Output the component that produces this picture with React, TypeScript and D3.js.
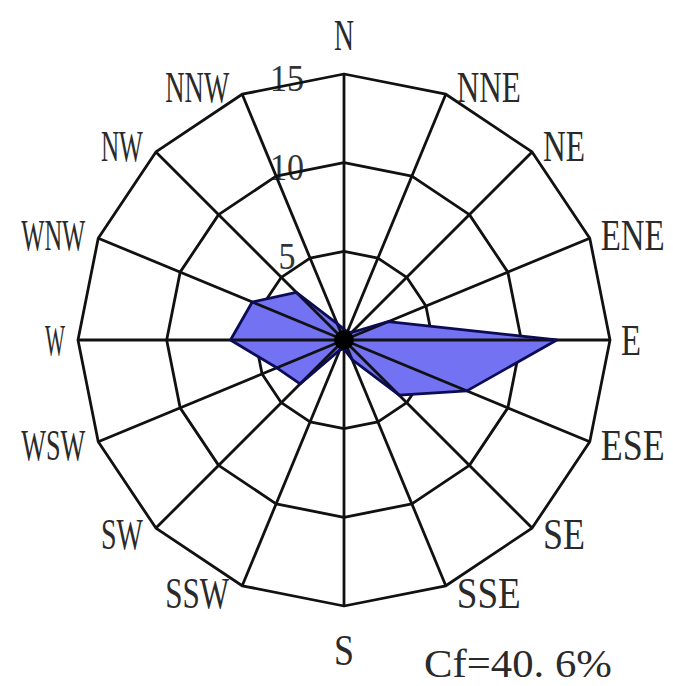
import React, { useRef, useEffect } from 'react';
import * as d3 from 'd3';

// 16 compass directions, clockwise from north
const directions = ['N', 'NNE', 'NE', 'ENE', 'E', 'ESE', 'SE', 'SSE', 'S', 'SSW', 'SW', 'WSW', 'W', 'WNW', 'NW', 'NNW'];
// wind frequency (%) per direction
const frequency = [0.6, 0.5, 0.6, 2.7, 12.0, 7.5, 4.4, 1.2, 0.5, 0.6, 3.5, 4.1, 6.4, 5.6, 3.8, 1.0];
const ringValues = [5, 10, 15];
const tickLabels = ['0', '5', '10', '15'];
const calmText = 'Cf=40. 6%';

const WindRose: React.FC = () => {
  const width = 673;
  const height = 686;
  const cx = 344;
  const cy = 340;
  const svgRef = useRef<SVGSVGElement | null>(null);

  useEffect(() => {
    const svg = d3.select(svgRef.current);
    svg.selectAll('*').remove();

    const r = d3.scaleLinear().domain([0, 15]).range([0, 266]);
    const angle = d3.scaleLinear().domain([0, directions.length]).range([0, 2 * Math.PI]);
    const pt = (i: number, v: number): [number, number] => [
      cx + r(v) * Math.sin(angle(i)),
      cy - r(v) * Math.cos(angle(i)),
    ];
    const fontFamily = '"Liberation Serif", "DejaVu Serif", serif';

    // squeeze a text horizontally to a target width (narrow serif look of the original)
    const squeeze = (sel: d3.Selection<SVGTextElement, any, any, any>, x: number, y: number, target: number) => {
      const node = sel.node() as SVGTextElement;
      const natural = node.getComputedTextLength() || target;
      sel.attr('x', 0).attr('y', 0)
        .attr('transform', `translate(${x},${y}) scale(${target / natural},1)`);
    };

    // radial tick labels, drawn under the grid
    const ticksG = svg.append('g');
    tickLabels.forEach(d => {
      const t = ticksG.append('text')
        .attr('dy', '0.35em')
        .attr('text-anchor', 'middle')
        .attr('font-family', fontFamily)
        .attr('font-size', 38)
        .attr('fill', d === '0' ? '#1c1c7a' : '#333')
        .text(d);
      squeeze(t, cx - 57, cy - r(+d) + 4, 17 * d.length);
    });

    const line = d3.line<[number, number]>();

    // grid rings (16-gons)
    svg.append('g')
      .selectAll('path')
      .data(ringValues)
      .enter()
      .append('path')
      .attr('d', v => line(directions.map((_, i) => pt(i, v))) + 'Z')
      .attr('fill', 'none')
      .attr('stroke', '#111')
      .attr('stroke-width', 2.8)
      .attr('stroke-linejoin', 'round');

    // data area
    svg.append('path')
      .attr('d', line(frequency.map((v, i) => pt(i, v))) + 'Z')
      .attr('fill', '#7272f2')
      .attr('stroke', 'none');

    // spokes
    svg.append('g')
      .selectAll('line')
      .data(directions)
      .enter()
      .append('line')
      .attr('x1', cx)
      .attr('y1', cy)
      .attr('x2', (_, i) => pt(i, 15)[0])
      .attr('y2', (_, i) => pt(i, 15)[1])
      .attr('stroke', '#111')
      .attr('stroke-width', 2.8);

    // polygon outline on top
    svg.append('path')
      .attr('d', line(frequency.map((v, i) => pt(i, v))) + 'Z')
      .attr('fill', 'none')
      .attr('stroke', '#0c0c55')
      .attr('stroke-width', 2.8)
      .attr('stroke-linejoin', 'round');

    svg.append('circle')
      .attr('cx', cx)
      .attr('cy', cy)
      .attr('r', 10)
      .attr('fill', '#000');

    // direction labels
    const labelG = svg.append('g');
    directions.forEach((d, i) => {
      const [vx, vy] = pt(i, 15);
      const s = Math.sin(angle(i));
      const c = Math.cos(angle(i));
      let x = vx;
      let y = vy - c * 8;
      let anchor = 'middle';
      if (Math.abs(s) >= 0.01) {
        x = s > 0 ? vx + 11 : vx - 13;
        anchor = s > 0 ? 'start' : 'end';
      } else {
        y = i === 0 ? vy - 39 : vy + 44;
      }
      const t = labelG.append('text')
        .attr('dy', '0.34em')
        .attr('text-anchor', anchor)
        .attr('font-family', fontFamily)
        .attr('font-size', 44)
        .attr('fill', '#2a2a2a')
        .text(d);
      squeeze(t, x, y, 22 * d.length - 2);
    });

    // calm frequency
    const cf = svg.append('text')
      .attr('font-family', fontFamily)
      .attr('font-size', 40)
      .attr('fill', '#2a2a2a')
      .text(calmText);
    squeeze(cf, 424, 677, 188);
  }, []);

  return (
    <svg
      ref={svgRef}
      width={width}
      height={height}
      style={{ position: 'absolute', left: 0, top: 0, background: '#fff', display: 'block' }}
    />
  );
};

export default function App() {
  return <WindRose />;
}
